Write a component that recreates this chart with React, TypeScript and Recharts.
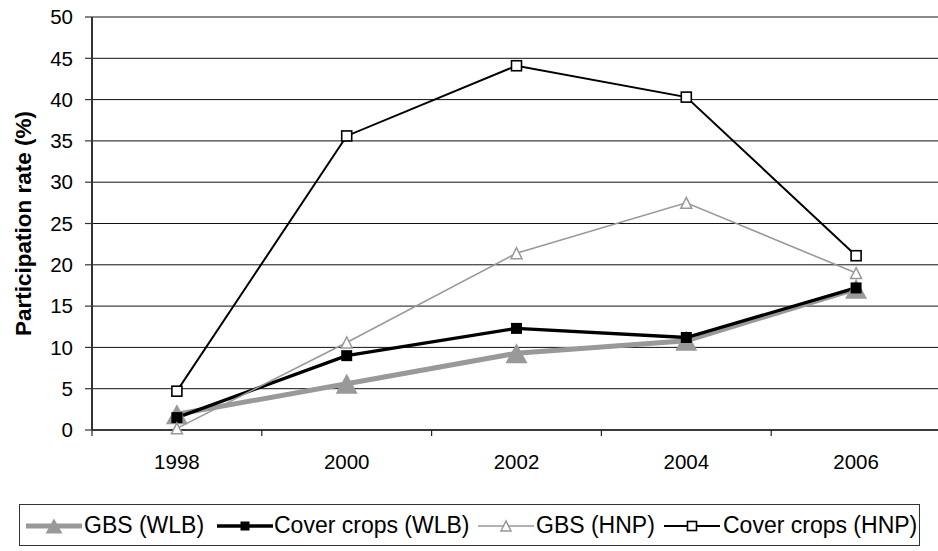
import { CartesianGrid, Line, LineChart, ReferenceLine, XAxis, YAxis } from "recharts"

const years = ["1998", "2000", "2002", "2004", "2006"]
const gbsWLB = [1.9, 5.6, 9.3, 10.8, 17.1]
const coverWLB = [1.5, 9.0, 12.3, 11.2, 17.2]
const gbsHNP = [0.2, 10.6, 21.4, 27.5, 19.0]
const coverHNP = [4.7, 35.6, 44.1, 40.3, 21.1]
const yTicks = [0, 5, 10, 15, 20, 25, 30, 35, 40, 45, 50]

const rows = years.map((year, i) => ({
  i,
  year,
  gbsWLB: gbsWLB[i],
  coverWLB: coverWLB[i],
  gbsHNP: gbsHNP[i],
  coverHNP: coverHNP[i],
}))

// x ticks sit on the category boundaries, like Excel does
const boundaries = years.map((_, i) => i - 0.5).concat(years.length - 0.5)

const GRAY = "#999999"
const FONT = "Arial, 'Liberation Sans', sans-serif"

type Kind = "bigTri" | "solidSq" | "openTri" | "openSq"

function Marker({ kind, cx, cy, legend = false }: { kind: Kind; cx: number; cy: number; legend?: boolean }) {
  if (kind === "bigTri") {
    const w = legend ? 17 : 22
    const h = legend ? 15 : 20
    return <polygon points={`${cx - w / 2},${cy + h / 2} ${cx + w / 2},${cy + h / 2} ${cx},${cy - h / 2}`} fill={GRAY} />
  }
  if (kind === "openTri") {
    const s = legend ? 10 : 11
    return (
      <polygon
        points={`${cx - s / 2},${cy + s / 2} ${cx + s / 2},${cy + s / 2} ${cx},${cy - s / 2}`}
        fill="#fff"
        stroke={GRAY}
        strokeWidth={1.5}
      />
    )
  }
  const s = kind === "solidSq" ? (legend ? 9 : 11) : legend ? 9 : 10
  return (
    <rect
      x={cx - s / 2}
      y={cy - s / 2}
      width={s}
      height={s}
      fill={kind === "solidSq" ? "#000" : "#fff"}
      stroke="#000"
      strokeWidth={kind === "solidSq" ? 0 : 1.6}
    />
  )
}

const dot = (kind: Kind) => (p: any) => <Marker key={`${kind}-${p.index}`} kind={kind} cx={p.cx} cy={p.cy} />

function YearTick(props: any) {
  const { x, y, payload, width } = props
  const label = years[Math.round(payload.value + 0.5)]
  if (!label) return <g />
  const half = (width || 849) / years.length / 2
  return (
    <text x={x + half} y={y} dy={31} textAnchor="middle" fontSize={20.5} fill="#000" fontFamily={FONT}>
      {label}
    </text>
  )
}

function YTitle(props: any) {
  const vb = props.viewBox || { y: 17, height: 413 }
  const cy = vb.y + vb.height / 2
  return (
    <text
      x={31}
      y={cy}
      transform={`rotate(-90, 31, ${cy})`}
      textAnchor="middle"
      fontSize={22.5}
      fontWeight="bold"
      fill="#000"
      fontFamily={FONT}
    >
      Participation rate (%)
    </text>
  )
}

const legendItems: { name: string; kind: Kind; stroke: string; width: number; left: number; textLeft: number }[] = [
  { name: "GBS (WLB)", kind: "bigTri", stroke: GRAY, width: 5, left: 6, textLeft: 64 },
  { name: "Cover crops (WLB)", kind: "solidSq", stroke: "#000", width: 3.3, left: 197, textLeft: 254 },
  { name: "GBS (HNP)", kind: "openTri", stroke: GRAY, width: 1.5, left: 458, textLeft: 516 },
  { name: "Cover crops (HNP)", kind: "openSq", stroke: "#000", width: 2, left: 644, textLeft: 703 },
]

function ChartLegend() {
  return (
    <div
      style={{
        position: "absolute",
        left: 19,
        top: 504,
        width: 901,
        height: 42,
        boxSizing: "border-box",
        border: "1px solid #333",
        background: "#fff",
      }}
    >
      {legendItems.map((it) => (
        <div key={it.name}>
          <svg width={56} height={24} style={{ position: "absolute", left: it.left, top: 9 }}>
            <line x1={0} x2={56} y1={12} y2={12} stroke={it.stroke} strokeWidth={it.width} />
            <Marker kind={it.kind} cx={28} cy={12} legend />
          </svg>
          <span
            style={{
              position: "absolute",
              left: it.textLeft,
              top: 7,
              fontSize: 23,
              lineHeight: "26px",
              whiteSpace: "nowrap",
              color: "#000",
            }}
          >
            {it.name}
          </span>
        </div>
      ))}
    </div>
  )
}

export default function App() {
  return (
    <div
      style={{
        position: "absolute",
        left: 0,
        top: 0,
        width: 938,
        height: 551,
        overflow: "hidden",
        background: "#fff",
        fontFamily: FONT,
      }}
    >
      <LineChart width={941} height={551} data={rows} margin={{ top: 17, right: 0, bottom: 91, left: 0 }}>
        <CartesianGrid vertical={false} stroke="#111" strokeWidth={1} />
        <XAxis
          type="number"
          dataKey="i"
          domain={[-0.5, years.length - 0.5]}
          ticks={boundaries}
          interval={0}
          height={30}
          tickSize={6}
          tickMargin={2}
          tick={<YearTick />}
          axisLine={{ stroke: "#222", strokeWidth: 1.5 }}
          tickLine={{ stroke: "#222", strokeWidth: 1.2 }}
        />
        <YAxis
          domain={[0, 50]}
          ticks={yTicks}
          interval={0}
          width={92}
          tickSize={7}
          tickMargin={12}
          tick={{ fontSize: 20.5, fill: "#000", fontFamily: FONT }}
          axisLine={{ stroke: "#333", strokeWidth: 2 }}
          tickLine={{ stroke: "#333", strokeWidth: 1.2 }}
          label={<YTitle />}
        />
        <ReferenceLine y={50} stroke="#8c8c8c" strokeWidth={1.5} />
        <Line
          dataKey="gbsWLB"
          stroke={GRAY}
          strokeWidth={5}
          dot={dot("bigTri")}
          activeDot={false}
          isAnimationActive={false}
        />
        <Line
          dataKey="coverWLB"
          stroke="#000"
          strokeWidth={3.3}
          dot={dot("solidSq")}
          activeDot={false}
          isAnimationActive={false}
        />
        <Line
          dataKey="gbsHNP"
          stroke={GRAY}
          strokeWidth={1.6}
          dot={dot("openTri")}
          activeDot={false}
          isAnimationActive={false}
        />
        <Line
          dataKey="coverHNP"
          stroke="#000"
          strokeWidth={2}
          dot={dot("openSq")}
          activeDot={false}
          isAnimationActive={false}
        />
      </LineChart>
      <ChartLegend />
    </div>
  )
}
